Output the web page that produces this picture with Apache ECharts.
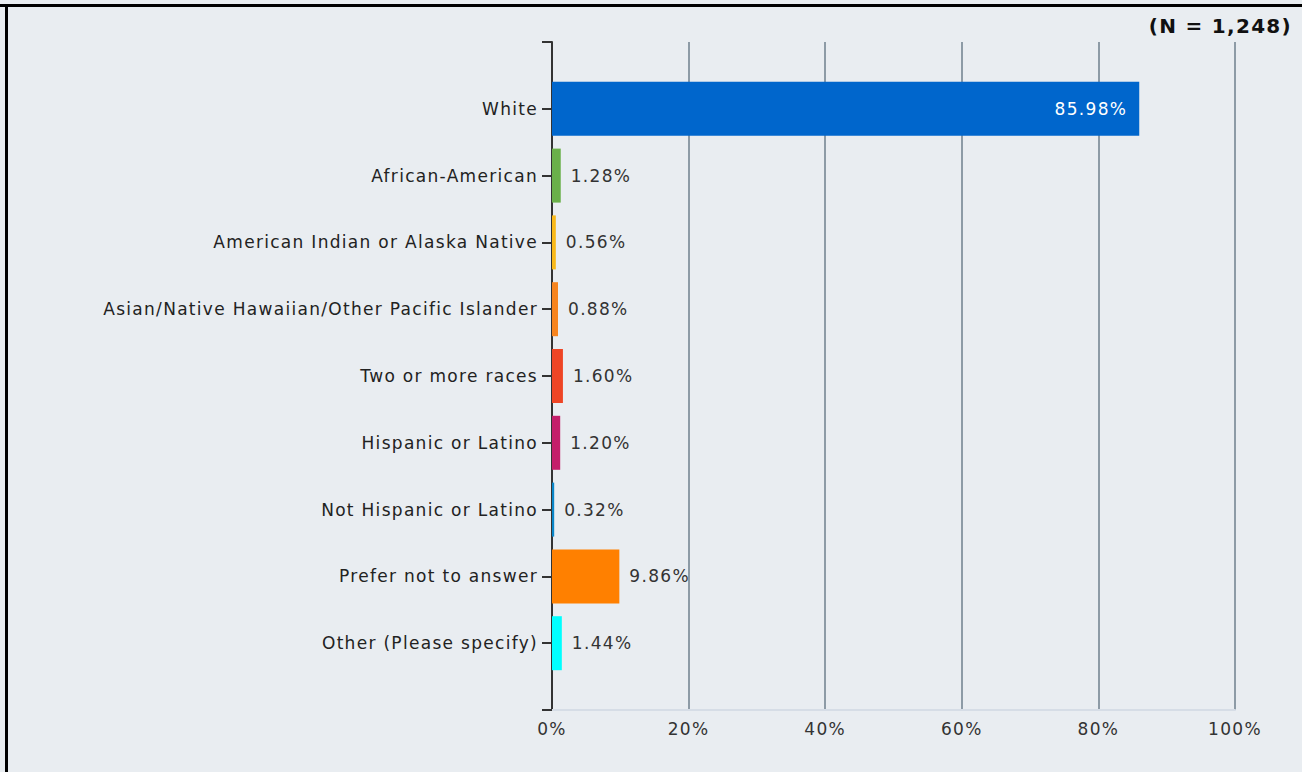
<!DOCTYPE html>
<html>
<head>
<meta charset="utf-8">
<title>Race / Ethnicity</title>
<script src="https://cdn.jsdelivr.net/npm/echarts@6/dist/echarts.min.js"></script>
<style>
  html, body { margin: 0; padding: 0; background: #e9edf1; }
  #chart { width: 1302px; height: 772px; }
  /* wide, loosely tracked lettering */
  #chart text { letter-spacing: 1.3px; }
</style>
</head>
<body>
<div id="chart"></div>
<script>
// Response categories (blank entries pad the axis ends)
const categories = [
  '',
  'White',
  'African-American',
  'American Indian or Alaska Native',
  'Asian/Native Hawaiian/Other Pacific Islander',
  'Two or more races',
  'Hispanic or Latino',
  'Not Hispanic or Latino',
  'Prefer not to answer',
  'Other (Please specify)',
  ''
];
// Share of respondents, percent
const values = [null, 85.98, 1.28, 0.56, 0.88, 1.60, 1.20, 0.32, 9.86, 1.44, null];
const barColors = [null, '#0066cc', '#6ab04a', '#f9b91a', '#f7841e', '#ee4525', '#c41e6a', '#0a86c8', '#ff8000', '#00ffff', null];
const xTicks = [0, 20, 40, 60, 80, 100];
const sampleNote = '(N = 1,248)';

const font = 'DejaVu Sans';
const chart = echarts.init(document.getElementById('chart'), null, { renderer: 'svg' });

chart.setOption({
  backgroundColor: '#e9edf1',
  animation: false,
  textStyle: { fontFamily: font },
  graphic: [
    { type: 'rect', shape: { x: 0, y: 4, width: 1302, height: 3 }, style: { fill: '#000' }, silent: true },
    { type: 'rect', shape: { x: 5, y: 4, width: 3, height: 768 }, style: { fill: '#000' }, silent: true },
    {
      type: 'text', x: 1292, y: 26, silent: true,
      style: {
        text: sampleNote, align: 'right', verticalAlign: 'middle',
        fontFamily: font, fontSize: 20, fontWeight: 'bold', fill: '#111'
      }
    }
  ],
  grid: { left: 552, right: 67, top: 42, bottom: 62, containLabel: false },
  xAxis: {
    type: 'value',
    min: xTicks[0],
    max: xTicks[xTicks.length - 1],
    interval: 20,
    axisLine: { show: true, lineStyle: { color: '#d6dde6', width: 2 } },
    axisTick: { show: false },
    splitLine: { show: true, lineStyle: { color: '#8d9ba6', width: 2 } },
    axisLabel: {
      formatter: '{value}%',
      color: '#333',
      fontSize: 17,
      margin: 10,
      fontFamily: font
    }
  },
  yAxis: {
    type: 'category',
    inverse: true,
    boundaryGap: false,
    data: categories,
    axisLine: { show: true, lineStyle: { color: '#333', width: 2 } },
    axisTick: { show: true, length: 10, lineStyle: { color: '#333', width: 2 } },
    splitLine: { show: false },
    axisLabel: {
      color: '#222',
      fontSize: 17,
      margin: 14,
      fontFamily: font
    }
  },
  series: [{
    type: 'bar',
    barWidth: 54,
    data: values.map((v, i) => v === null ? null : {
      value: v,
      itemStyle: { color: barColors[i] },
      label: i === 1
        ? { position: 'insideRight', color: '#fff', distance: 12 }
        : { position: 'right', color: '#333', distance: 10 }
    }),
    label: {
      show: true,
      fontSize: 17,
      fontFamily: font,
      formatter: p => p.value.toFixed(2) + '%'
    }
  }]
});
</script>
</body>
</html>
